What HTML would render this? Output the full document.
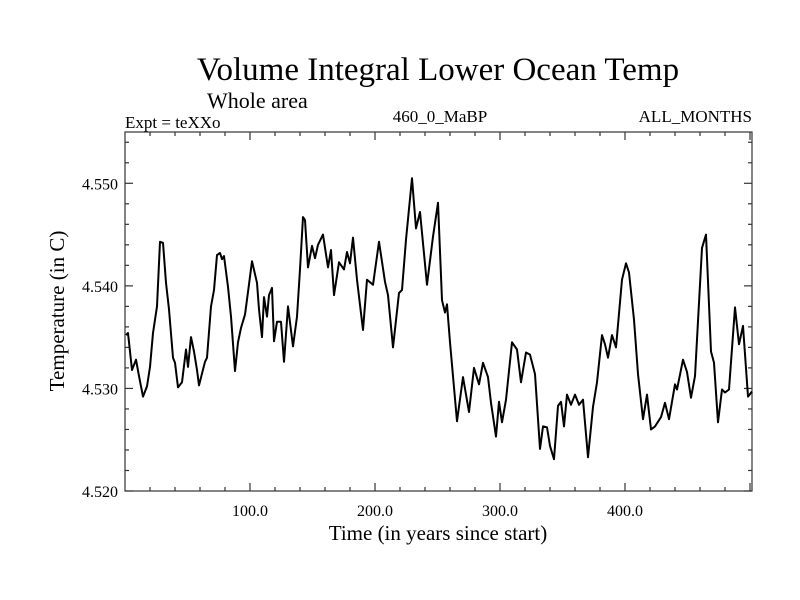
<!DOCTYPE html>
<html><head><meta charset="utf-8"><style>
body{margin:0;background:#fff}
svg{display:block;font-family:"Liberation Serif",serif}
</style></head><body>
<svg id="c" width="800" height="600">
<text x="438" y="80" font-size="33" text-anchor="middle">Volume Integral Lower Ocean Temp</text>
<text x="207" y="108" font-size="22">Whole area</text>
<text x="125" y="128" font-size="17">Expt = teXXo</text>
<text x="440" y="122" font-size="17" text-anchor="middle">460_0_MaBP</text>
<text x="752" y="122" font-size="17" text-anchor="end">ALL_MONTHS</text>
<text x="438" y="540" font-size="21" text-anchor="middle">Time (in years since start)</text>
<text transform="translate(64,311) rotate(-90)" font-size="21" text-anchor="middle">Temperature (in C)</text>
<g id="axes"></g>
<path id="line" fill="none" stroke="#000" stroke-width="2" stroke-linejoin="round"/>
</svg>
<script>
const years=[0.8,2.4,5.6,8.8,11.2,14.4,17.6,20,22.4,25.6,28,30.4,32.8,35.2,38.4,40,42.4,45.6,48.8,50.4,52.8,55.2,57.6,59.2,64,65.6,68.8,71.2,73.6,76,77.6,79.2,82.4,84.8,88,90.4,92.8,96,98.4,101.6,105.6,107.2,109.6,111.2,113.6,115.2,117.6,119.2,121.6,124.8,127.2,130.4,134.4,137.6,140,142.4,144,146.4,149.6,152,154.4,158.4,162.4,164.8,167.2,171.2,175.2,177.6,180,182.4,185.6,190.4,193.6,198.4,203.2,208,210.4,214.4,219.2,221.6,224.8,229.6,232.8,236,241.6,246.4,250.4,253.6,256,257.6,260,265.6,270.4,275.2,279.2,283.2,286.4,290.4,292.8,296.8,299.2,301.6,304.8,309.6,313.6,316.8,320.8,324,328,332,334.4,337.6,340,343.2,346.4,348.8,351.2,353.6,356.8,360,363.2,366.4,370.4,374.4,377.6,381.6,384,386.4,389.6,392.8,397.6,400.8,403.2,407.2,410.4,414.4,417.6,420.8,424,428.8,432,435.2,440,441.6,446.4,449.6,452.8,456,461.6,464.8,468.8,471.2,474.4,477.6,480,483.2,488,491.2,494.4,498.4,501.6];
const temps=[4.5352,4.5354,4.5318,4.5328,4.5312,4.5292,4.5302,4.5321,4.5354,4.538,4.5443,4.5442,4.5403,4.5377,4.533,4.5325,4.5301,4.5306,4.5338,4.5321,4.535,4.5336,4.5318,4.5303,4.5326,4.533,4.538,4.5396,4.543,4.5432,4.5426,4.5429,4.5399,4.537,4.5317,4.5345,4.5359,4.5372,4.5394,4.5424,4.5403,4.5377,4.535,4.5389,4.537,4.5391,4.5398,4.5346,4.5365,4.5365,4.5326,4.538,4.5341,4.537,4.5416,4.5467,4.5464,4.5418,4.5439,4.5427,4.544,4.545,4.5418,4.5435,4.5391,4.5423,4.5416,4.5433,4.5422,4.5447,4.5406,4.5357,4.5406,4.5401,4.5443,4.5404,4.5391,4.534,4.5393,4.5396,4.5445,4.5505,4.5456,4.5472,4.5401,4.5448,4.5481,4.5386,4.5374,4.5382,4.5345,4.5268,4.5311,4.5277,4.532,4.5304,4.5325,4.5311,4.5286,4.5253,4.5287,4.5267,4.5289,4.5345,4.5338,4.5306,4.5335,4.5333,4.5314,4.5241,4.5263,4.5262,4.5244,4.5231,4.5283,4.5287,4.5263,4.5294,4.5284,4.5294,4.5284,4.5289,4.5233,4.5282,4.5306,4.5352,4.5343,4.533,4.5352,4.534,4.5406,4.5422,4.5413,4.5367,4.5314,4.527,4.5294,4.526,4.5263,4.5272,4.5286,4.527,4.5304,4.5299,4.5328,4.5316,4.5291,4.5312,4.5437,4.545,4.5336,4.5325,4.5267,4.5299,4.5296,4.5299,4.5379,4.5343,4.5361,4.5292,4.5297];
const xTicks=[100,200,300,400];
const xTickLabels=["100.0","200.0","300.0","400.0"];
const yTicks=[4.52,4.53,4.54,4.55];
const yTickLabels=["4.520","4.530","4.540","4.550"];
const L=125,R=752,T=132,B=491,X0=0,X1=501.6,Y0=4.52,Y1=4.555;
const sx=v=>L+(v-X0)/(X1-X0)*(R-L);
const sy=v=>B-(v-Y0)/(Y1-Y0)*(B-T);
const NS='http://www.w3.org/2000/svg';
const ax=document.getElementById('axes');
function ln(x1,y1,x2,y2,name){const e=document.createElementNS(NS,'line');e.setAttribute('x1',x1);e.setAttribute('y1',y1);e.setAttribute('x2',x2);e.setAttribute('y2',y2);e.setAttribute('stroke','#333');e.setAttribute('stroke-width','1.2');


ax.appendChild(e);}
function tx(x,y,s,anchor,name){const e=document.createElementNS(NS,'text');e.setAttribute('x',x);e.setAttribute('y',y);e.setAttribute('font-size','16');e.setAttribute('text-anchor',anchor);e.textContent=s;


ax.appendChild(e);}
const fr=document.createElementNS(NS,'rect');fr.setAttribute('x',L);fr.setAttribute('y',T);fr.setAttribute('width',R-L);fr.setAttribute('height',B-T);fr.setAttribute('fill','none');fr.setAttribute('stroke','#333');fr.setAttribute('stroke-width','1.2');


ax.appendChild(fr);
for(let v=20;v<X1;v+=20){const maj=v%100===0;const len=maj?8:4;ln(sx(v),B,sx(v),B-len,'x-tick');ln(sx(v),T,sx(v),T+len,'x-tick-top');}
for(let i=0;i<=17;i++){const v=Y0+i*0.002;const maj=i%5===0;const len=maj?8:4;ln(L,sy(v),L+len,sy(v),'y-tick');ln(R,sy(v),R-len,sy(v),'y-tick-right');}
xTicks.forEach((v,i)=>tx(sx(v),B+25,xTickLabels[i],'middle','x-tick-label'));
yTicks.forEach((v,i)=>tx(L-7,sy(v)+6,yTickLabels[i],'end','y-tick-label'));
document.getElementById('line').setAttribute('d',years.map((y,i)=>(i?'L':'M')+sx(y).toFixed(1)+','+sy(temps[i]).toFixed(1)).join(''));
</script>
</body></html>
